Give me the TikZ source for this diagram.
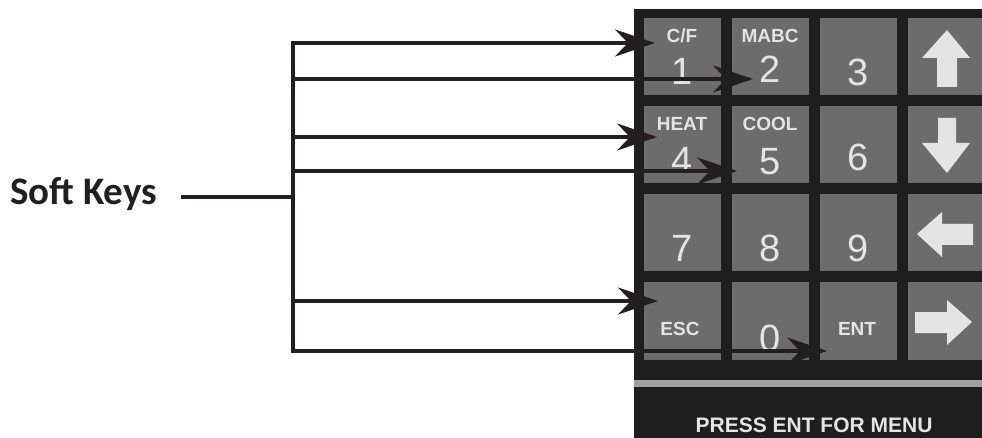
\documentclass[tikz,border=0pt]{standalone}
\usepackage{fontspec}
\setmainfont{Liberation Sans}
\newfontfamily\skfont{Carlito}
\usetikzlibrary{arrows.meta}
\definecolor{panel}{HTML}{1E1E1E}
\definecolor{keygray}{HTML}{6C6C6C}
\definecolor{keytext}{HTML}{E4E4E4}
\definecolor{stripe}{HTML}{A0A0A0}
\definecolor{ink}{HTML}{231F20}
\begin{document}
\begin{tikzpicture}[x=1pt,y=-1pt,
  key/.style={fill=keygray, draw=none, minimum width=77pt, minimum height=77pt, inner sep=0pt},
  edgekey/.style={key, minimum width=74pt},
  digit/.style={text=keytext, font=\fontsize{38}{38}\selectfont, inner sep=0pt},
  tag/.style={text=keytext, font=\bfseries\fontsize{19}{19}\selectfont, inner sep=0pt},
  icon/.style={fill=keytext, draw=none},
  wire/.style={draw=ink, line width=3.2pt, line cap=rect},
  arr/.style={draw=ink, line width=3.5pt, -{Stealth[length=40pt,width=27pt,inset=13pt]}}]
\useasboundingbox (0,0) rectangle (982,438);
% panel
\fill[panel] (634,9) rectangle (982,438);
% keys
\node[key] (k1) at (682,56.5) {};
\node[key] (k2) at (770,56.5) {};
\node[key] (k3) at (858.5,56.5) {};
\node[edgekey] (kup) at (945,56.5) {};
\node[key] (k4) at (682,145) {};
\node[key] (k5) at (770,145) {};
\node[key] (k6) at (858.5,145) {};
\node[edgekey] (kdown) at (945,145) {};
\node[key] (k7) at (682,233) {};
\node[key] (k8) at (770,233) {};
\node[key] (k9) at (858.5,233) {};
\node[edgekey] (kleft) at (945,233) {};
\node[key] (kesc) at (682,321) {};
\node[key] (k0) at (770,321) {};
\node[key] (kent) at (858.5,321) {};
\node[edgekey] (kright) at (945,321) {};
% stripe and footer
\fill[stripe] (634,380) rectangle (982,387);
\node[text=keytext, font=\bfseries\fontsize{21}{21}\selectfont, inner sep=0pt] (menu) at (814,425) {PRESS ENT FOR MENU};
% key texts
\node[tag] (tcf) at (682,36) {C/F};
\node[tag] (tmabc) at (770,36) {MABC};
\node[digit] (d1) at (682,71) {1};
\node[digit] (d2) at (770,69) {2};
\node[digit] (d3) at (858,72) {3};
\node[tag] (theat) at (682,124) {HEAT};
\node[tag] (tcool) at (770,124) {COOL};
\node[digit] (d4) at (682,160) {4};
\node[digit] (d5) at (770,162) {5};
\node[digit] (d6) at (858,157) {6};
\node[digit] (d7) at (682,248) {7};
\node[digit] (d8) at (770,248) {8};
\node[digit] (d9) at (858,248) {9};
\node[tag] (tesc) at (680,329) {ESC};
\node[digit] (d0) at (770,338) {0};
\node[tag] (tent) at (857,329) {ENT};
% arrow icons
\fill[icon] (947,30) -- (970,58) -- (957,58) -- (957,87) -- (937,87) -- (937,58) -- (922,58) -- cycle;
\fill[icon] (947,173) -- (970,143) -- (956,143) -- (956,118) -- (938,118) -- (938,143) -- (922,143) -- cycle;
\fill[icon] (917,234) -- (942,212) -- (942,224) -- (973,224) -- (973,245) -- (942,245) -- (942,257) -- cycle;
\fill[icon] (972,322) -- (947,300) -- (947,312) -- (915,312) -- (915,333) -- (947,333) -- (947,345) -- cycle;
% soft keys label and bus
\node[font=\skfont\bfseries\fontsize{39}{40}\selectfont, text=ink, anchor=base west, inner sep=0pt] (sk) at (10,205) {Soft Keys};
\coordinate (ls) at (183,197);
\coordinate (bm) at (293,197);
\coordinate (b1) at (293,43);
\coordinate (b2) at (293,79);
\coordinate (b3) at (293,137);
\coordinate (b4) at (293,171);
\coordinate (b5) at (293,301);
\coordinate (b6) at (293,351);
\coordinate (t1) at (655,43);
\coordinate (t2) at (753,79);
\coordinate (t3) at (657,137);
\coordinate (t4) at (737,171);
\coordinate (t5) at (658,301);
\coordinate (t6) at (827,351);
\draw[wire] (ls) -- (bm);
\draw[wire] (b1) -- (b6);
\draw[arr] (b1) -- (t1);
\draw[arr] (b2) -- (t2);
\draw[arr] (b3) -- (t3);
\draw[arr] (b4) -- (t4);
\draw[arr] (b5) -- (t5);
\draw[arr] (b6) -- (t6);
\end{tikzpicture}
\end{document}
